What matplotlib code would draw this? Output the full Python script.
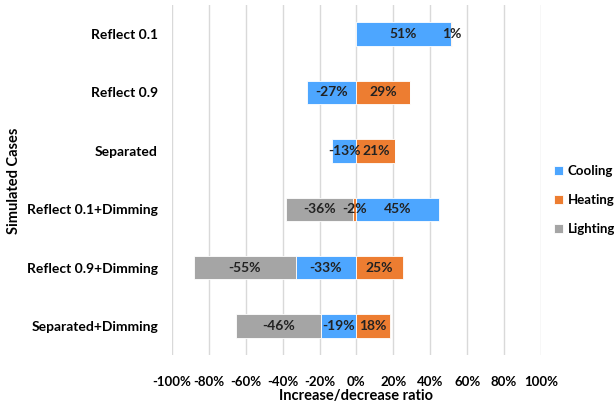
import matplotlib.pyplot as plt
import numpy as np

plt.rcParams['font.family'] = ['Lato', 'DejaVu Sans']

cases = ["Reflect 0.1", "Reflect 0.9", "Separated", "Reflect 0.1+Dimming",
         "Reflect 0.9+Dimming", "Separated+Dimming"]
cooling = [51, -27, -13, 45, -33, -19]
heating = [1, 29, 21, -2, 25, 18]
lighting = [0, 0, 0, -36, -55, -46]
xticks = [-100, -80, -60, -40, -20, 0, 20, 40, 60, 80, 100]

series = [("Cooling", cooling, "#4DA6FF"),
          ("Heating", heating, "#ED7D31"),
          ("Lighting", lighting, "#A5A5A5")]

fig = plt.figure(figsize=(6.14, 4.11), dpi=100)
ax = fig.add_axes([0.280, 0.136, 0.601, 0.852])

y = np.arange(len(cases))
pos = np.zeros(len(cases))
neg = np.zeros(len(cases))
for name, vals, col in series:
    vals = np.array(vals, dtype=float)
    left = np.where(vals >= 0, pos, neg)
    ax.barh(y, vals, left=left, height=0.4, color=col, edgecolor="white",
            linewidth=0.6, label=name, zorder=3)
    for yi, l, v in zip(y, left, vals):
        if v != 0:
            ax.text(l + v / 2, yi, f"{int(v)}%", ha="center", va="center",
                    fontsize=10, fontweight="bold", color="#222222", zorder=4)
    pos = np.where(vals >= 0, pos + vals, pos)
    neg = np.where(vals < 0, neg + vals, neg)

ax.set_xlim(-100, 100)
ax.set_ylim(len(cases) - 0.5, -0.5)
ax.set_xticks(xticks)
ax.set_xticklabels([f"{t}%" for t in xticks], fontsize=9.5, fontweight="bold")
ax.set_yticks(y)
ax.set_yticklabels(cases, fontsize=10, fontweight="bold")
ax.tick_params(axis="y", length=0, pad=10)
ax.tick_params(axis="x", length=0, pad=15)
ax.grid(axis="x", color="#D9D9D9", linewidth=1, zorder=0)
for s in ax.spines.values():
    s.set_visible(False)

ax.set_xlabel("Increase/decrease ratio", fontsize=10.5, fontweight="bold", labelpad=1)
fig.text(0.022, 0.56, "Simulated Cases", rotation=90, ha="center", va="center",
         fontsize=10.5, fontweight="bold")

leg = ax.legend(loc="center left", bbox_to_anchor=(1.035, 0.443), frameon=False,
                prop={"weight": "bold", "size": 9.5}, handlelength=0.7,
                handleheight=0.7, handletextpad=0.35, labelspacing=1.3,
                borderpad=0, borderaxespad=0)

fig.savefig("out.png", dpi=100)
